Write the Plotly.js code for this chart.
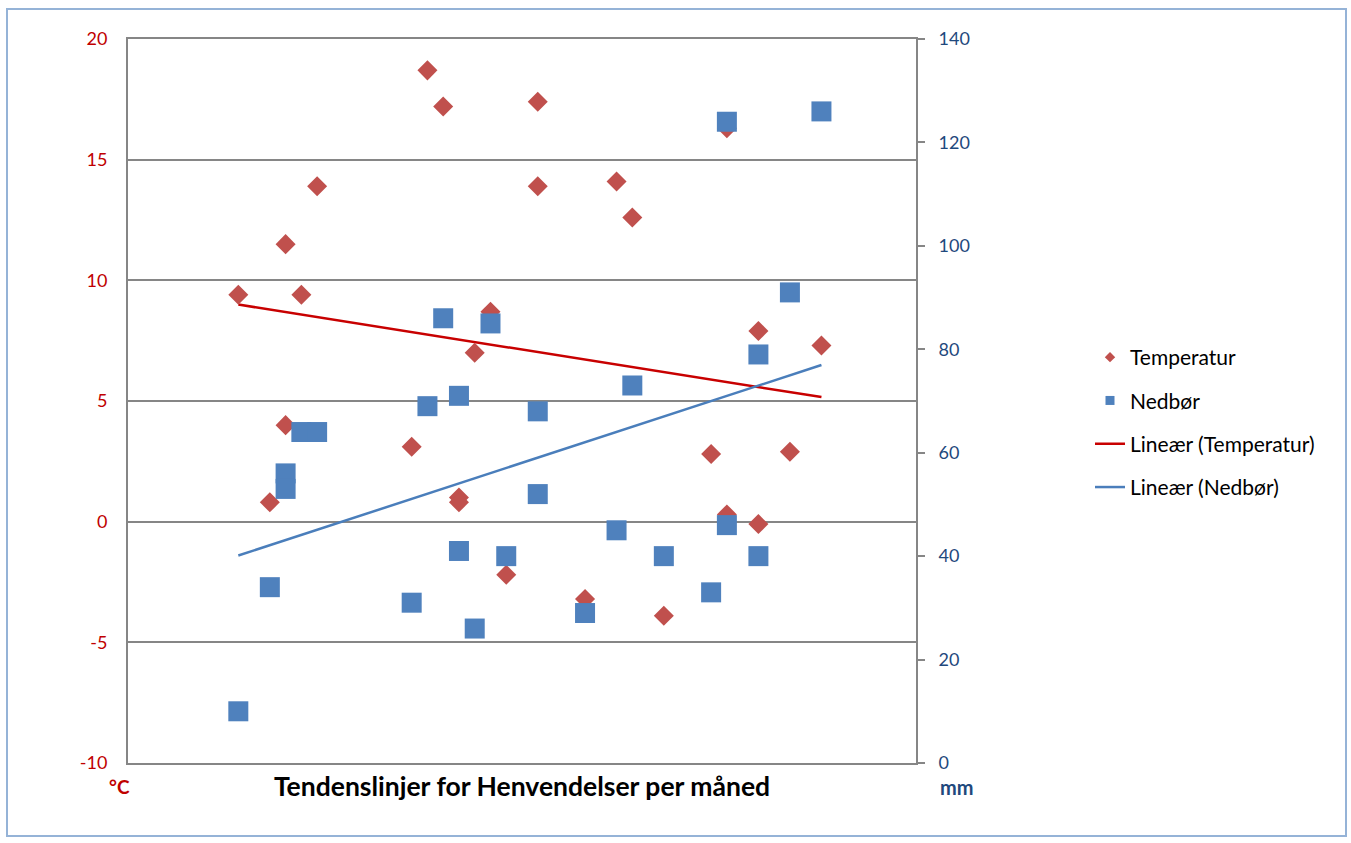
<!DOCTYPE html>
<html>
<head>
<meta charset="utf-8">
<script src="https://cdn.plot.ly/plotly-3.0.1.min.js"></script>
<style>
  html, body { margin: 0; padding: 0; background: #ffffff; }
  #chart { width: 1351px; height: 843px; }
</style>
</head>
<body>
<div id="chart"></div>
<script>
// ---- Data ----
const henvendelser = [7, 9, 10, 10, 11, 12, 18, 19, 20, 21, 21, 22, 23, 24, 26, 26, 29, 31, 32, 34, 37, 38, 38, 40, 40, 42, 44];
const temperatur   = [9.4, 0.8, 11.5, 4.0, 9.4, 13.9, 3.1, 18.7, 17.2, 1.0, 0.8, 7.0, 8.7, -2.2, 17.4, 13.9, -3.2, 14.1, 12.6, -3.9, 2.8, 16.3, 0.3, 7.9, -0.1, 2.9, 7.3];
const nedbor       = [10, 34, 56, 53, 64, 64, 31, 69, 86, 71, 41, 26, 85, 40, 68, 52, 29, 45, 73, 40, 33, 124, 46, 79, 40, 91, 126];

const seriesNames = ['Temperatur', 'Nedbør', 'Lineær (Temperatur)', 'Lineær (Nedbør)'];
const chartTitle = 'Tendenslinjer for Henvendelser per måned';
const leftUnit = '°C';
const rightUnit = 'mm';
const leftTickVals = [-10, -5, 0, 5, 10, 15, 20];
const leftTickText = ['-10', '-5', '0', '5', '10', '15', '20'];
const rightTickVals = [0, 20, 40, 60, 80, 100, 120, 140];

// ---- Linear trendline (least squares) ----
function linearFit(xs, ys) {
  const n = xs.length;
  const mx = xs.reduce((a, b) => a + b, 0) / n;
  const my = ys.reduce((a, b) => a + b, 0) / n;
  let sxy = 0, sxx = 0;
  for (let i = 0; i < n; i++) {
    sxy += (xs[i] - mx) * (ys[i] - my);
    sxx += (xs[i] - mx) * (xs[i] - mx);
  }
  const slope = sxy / sxx;
  return { slope: slope, intercept: my - slope * mx };
}
const xMin = Math.min.apply(null, henvendelser);
const xMax = Math.max.apply(null, henvendelser);
const fitT = linearFit(henvendelser, temperatur);
const fitN = linearFit(henvendelser, nedbor);
const trendX = [xMin, xMax];
const trendT = trendX.map(x => fitT.intercept + fitT.slope * x);
const trendN = trendX.map(x => fitN.intercept + fitN.slope * x);

// ---- Colours ----
const cTemp = '#c0504d';
const cNed = '#4f81bd';
const cTrendT = '#c80000';
const cTrendN = '#4a7ebb';
const FONT = 'Lato, "Open Sans", sans-serif';

const traces = [
  { x: trendX, y: trendT, mode: 'lines', line: { color: cTrendT, width: 2.5 }, showlegend: false, hoverinfo: 'skip' },
  { x: trendX, y: trendN, yaxis: 'y2', mode: 'lines', line: { color: cTrendN, width: 2.5 }, showlegend: false, hoverinfo: 'skip' },
  { x: henvendelser, y: temperatur, mode: 'markers', name: seriesNames[0],
    marker: { symbol: 'diamond', size: 15.4, color: cTemp, line: { width: 0 } }, showlegend: false },
  { x: henvendelser, y: nedbor, yaxis: 'y2', mode: 'markers', name: seriesNames[1],
    marker: { symbol: 'square', size: 20, color: cNed, line: { width: 0 } }, showlegend: false },
  // legend entries
  { x: [null], y: [null], mode: 'markers', name: seriesNames[0], legendgroup: 'a',
    marker: { symbol: 'diamond', size: 8, color: cTemp } },
  { x: [null], y: [null], mode: 'markers', name: seriesNames[1], legendgroup: 'b',
    marker: { symbol: 'square', size: 9, color: cNed } },
  { x: [null], y: [null], mode: 'lines', name: seriesNames[2], legendgroup: 'c',
    line: { color: cTrendT, width: 2.5 } },
  { x: [null], y: [null], mode: 'lines', name: seriesNames[3], legendgroup: 'd',
    line: { color: cTrendN, width: 2.5 } }
];

const L = 128, R = 916, T = 39, B = 763, W = 1351, H = 843;
const px = v => (v - L) / (R - L);
const py = v => (B - v) / (B - T);

const layout = {
  width: W, height: H,
  margin: { l: L, r: W - R, t: T, b: H - B, pad: 0 },
  paper_bgcolor: '#ffffff',
  plot_bgcolor: '#ffffff',
  font: { family: FONT, size: 18, color: '#000000' },
  title: {
    text: '<b>' + chartTitle + '</b>',
    font: { family: FONT, size: 26.5, color: '#000000' },
    x: 0.5, xref: 'paper', xanchor: 'center',
    y: 1 - 787 / H, yref: 'container', yanchor: 'middle'
  },
  xaxis: {
    range: [0, 50], showticklabels: false, showgrid: false, zeroline: false,
    showline: true, linecolor: '#868686', linewidth: 2, mirror: true, ticks: '', fixedrange: true
  },
  yaxis: {
    range: [-10, 20], tickvals: leftTickVals, ticktext: leftTickText,
    showgrid: true, gridcolor: '#868686', gridwidth: 2, zeroline: false,
    showline: true, linecolor: '#868686', linewidth: 2, ticks: '',
    tickfont: { family: FONT, size: 18, color: '#c00000' },
    ticklabelstandoff: 15
  },
  yaxis2: {
    overlaying: 'y', side: 'right', range: [0, 140], tickvals: rightTickVals,
    showgrid: false, zeroline: false, showline: true, linecolor: '#868686', linewidth: 2,
    ticks: 'outside', ticklen: 7, tickwidth: 2, tickcolor: '#868686',
    tickfont: { family: FONT, size: 18, color: '#1f497d' },
    ticklabelstandoff: 10
  },
  legend: {
    x: px(1090), xanchor: 'left', y: py(337), yanchor: 'top',
    font: { family: FONT, size: 21, color: '#000000' },
    tracegroupgap: 13, bgcolor: 'rgba(0,0,0,0)'
  },
  annotations: [
    { text: '<b>' + leftUnit + '</b>', xref: 'paper', yref: 'paper', x: px(119), y: py(787),
      xanchor: 'center', yanchor: 'middle', showarrow: false,
      font: { family: FONT, size: 19, color: '#c00000' } },
    { text: '<b>' + rightUnit + '</b>', xref: 'paper', yref: 'paper', x: px(957), y: py(787),
      xanchor: 'center', yanchor: 'middle', showarrow: false,
      font: { family: FONT, size: 20, color: '#1f497d' } }
  ],
  shapes: [
    { type: 'rect', xref: 'paper', yref: 'paper', x0: px(7), x1: px(1346), y0: py(836), y1: py(9),
      line: { color: '#95b3d7', width: 2 }, layer: 'below' }
  ],
  showlegend: true
};

Plotly.newPlot('chart', traces, layout, { displayModeBar: false, staticPlot: true });
</script>
</body>
</html>
